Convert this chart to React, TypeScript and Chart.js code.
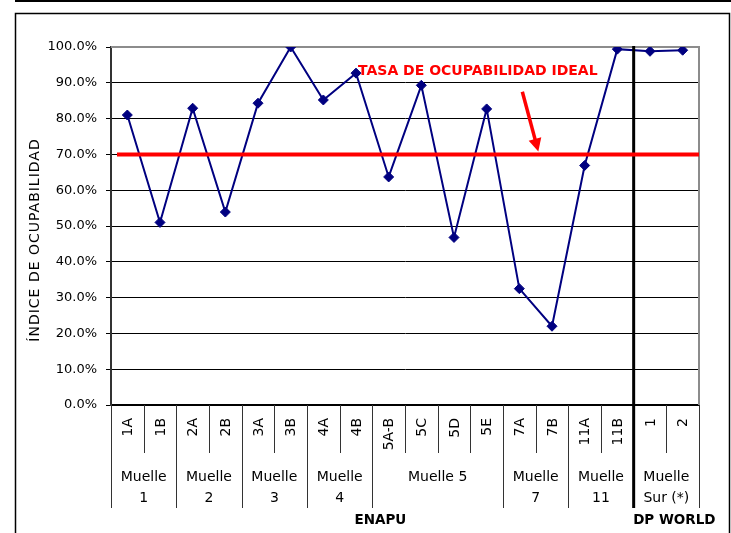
import React, { useEffect, useRef } from 'react';
import { Chart, registerables } from 'chart.js';

Chart.register(...registerables);

// ---- data ----
const categories = ['1A', '1B', '2A', '2B', '3A', '3B', '4A', '4B', '5A-B', '5C', '5D', '5E', '7A', '7B', '11A', '11B', '1', '2'];
const occupancy = [81.0, 51.0, 82.9, 53.9, 84.3, 100.0, 85.2, 92.7, 63.7, 89.3, 46.8, 82.7, 32.5, 22.0, 66.9, 99.4, 98.8, 99.1];
const groupLabels = [['Muelle', '1'], ['Muelle', '2'], ['Muelle', '3'], ['Muelle', '4'], ['Muelle 5'], ['Muelle', '7'], ['Muelle', '11'], ['Muelle', 'Sur (*)']];
const groupSizes = [2, 2, 2, 2, 4, 2, 2, 2];
const operators = ['ENAPU', 'DP WORLD'];
const operatorSizes = [16, 2];
const idealRate = 70;
const idealLabel = 'TASA DE OCUPABILIDAD IDEAL';
const yTitle = 'ÍNDICE DE OCUPABILIDAD';
const yMin = 0;
const yMax = 100;
const yStep = 10;

const FONT = '"DejaVu Sans", sans-serif';

const overlay = {
  id: 'overlay',
  beforeDatasetsDraw(chart: any) {
    const { ctx, chartArea: ca } = chart;
    ctx.save();
    ctx.strokeStyle = '#8c8c8c';
    ctx.lineWidth = 2;
    ctx.beginPath();
    ctx.moveTo(ca.left, ca.top);
    ctx.lineTo(ca.right, ca.top);
    ctx.lineTo(ca.right, ca.bottom);
    ctx.stroke();
    ctx.restore();
  },
  afterDatasetsDraw(chart: any) {
    const { ctx, chartArea: ca, scales } = chart;
    const x = scales.x;
    const y = scales.y;
    const step = x.getPixelForValue(1) - x.getPixelForValue(0);
    const edge = (i: number) => x.getPixelForValue(0) - step / 2 + i * step;
    ctx.save();

    // operator divider (thick black)
    const opBoundary = edge(operatorSizes[0]);
    ctx.strokeStyle = '#000';
    ctx.lineWidth = 3;
    ctx.beginPath();
    ctx.moveTo(opBoundary, ca.top - 1);
    ctx.lineTo(opBoundary, ca.bottom + 103);
    ctx.stroke();

    // ideal line
    const yi = y.getPixelForValue(idealRate);
    ctx.strokeStyle = '#ff0000';
    ctx.lineWidth = 4;
    ctx.beginPath();
    ctx.moveTo(ca.left + 6, yi);
    ctx.lineTo(ca.right, yi);
    ctx.stroke();

    // annotation text
    ctx.fillStyle = '#ff0000';
    ctx.font = `bold 14px ${FONT}`;
    ctx.textAlign = 'left';
    ctx.textBaseline = 'middle';
    ctx.fillText(idealLabel, x.getPixelForValue(7) + 2, y.getPixelForValue(93.1));

    // arrow
    const x0 = x.getPixelForValue(12) + 3;
    const y0 = y.getPixelForValue(87.5);
    const x1 = x.getPixelForValue(12) + 19;
    const y1 = y.getPixelForValue(70.8);
    const ang = Math.atan2(y1 - y0, x1 - x0);
    const hl = 13;
    const hw = 6.5;
    const bx = x1 - hl * Math.cos(ang);
    const by = y1 - hl * Math.sin(ang);
    ctx.strokeStyle = '#ff0000';
    ctx.lineWidth = 3.5;
    ctx.beginPath();
    ctx.moveTo(x0, y0);
    ctx.lineTo(bx + 2 * Math.cos(ang), by + 2 * Math.sin(ang));
    ctx.stroke();
    ctx.beginPath();
    ctx.moveTo(x1, y1);
    ctx.lineTo(bx + hw * Math.sin(ang), by - hw * Math.cos(ang));
    ctx.lineTo(bx - hw * Math.sin(ang), by + hw * Math.cos(ang));
    ctx.closePath();
    ctx.fill();
    ctx.restore();
  },
  afterDraw(chart: any) {
    const { ctx, chartArea: ca, scales, width } = chart;
    const x = scales.x;
    const step = x.getPixelForValue(1) - x.getPixelForValue(0);
    const edge = (i: number) => x.getPixelForValue(0) - step / 2 + i * step;
    ctx.save();

    // category separators
    const groupBounds = new Set<number>();
    let acc = 0;
    groupBounds.add(0);
    groupSizes.forEach((s) => { acc += s; groupBounds.add(acc); });
    ctx.strokeStyle = '#333';
    ctx.lineWidth = 1;
    for (let b = 0; b <= categories.length; b++) {
      if (b === operatorSizes[0]) continue;
      const xb = Math.round(edge(b)) + 0.5;
      ctx.beginPath();
      ctx.moveTo(xb, ca.bottom);
      ctx.lineTo(xb, ca.bottom + (groupBounds.has(b) ? 103 : 48));
      ctx.stroke();
    }

    // category labels (rotated)
    ctx.fillStyle = '#000';
    ctx.font = `14px ${FONT}`;
    categories.forEach((c, i) => {
      ctx.save();
      ctx.translate(x.getPixelForValue(i) + 1, ca.bottom + 13);
      ctx.rotate(-Math.PI / 2);
      ctx.textAlign = 'right';
      ctx.textBaseline = 'middle';
      ctx.fillText(c, 0, 0);
      ctx.restore();
    });

    // group labels
    ctx.textAlign = 'center';
    ctx.textBaseline = 'middle';
    let start = 0;
    groupLabels.forEach((lines, gi) => {
      const end = start + groupSizes[gi];
      const cx = (edge(start) + edge(end)) / 2;
      lines.forEach((ln, li) => ctx.fillText(ln, cx, ca.bottom + 72 + li * 21));
      start = end;
    });

    // operator labels
    ctx.font = `bold 13.5px ${FONT}`;
    start = 0;
    operators.forEach((op, oi) => {
      const end = start + operatorSizes[oi];
      const cx = (edge(start) + edge(end)) / 2 + 8;
      ctx.fillText(op, cx, ca.bottom + 115);
      start = end;
    });

    // y axis title
    ctx.save();
    ctx.font = `14px ${FONT}`;
    (ctx as any).letterSpacing = '1px';
    ctx.translate(35, (ca.top + ca.bottom) / 2 + 14);
    ctx.rotate(-Math.PI / 2);
    ctx.textAlign = 'center';
    ctx.textBaseline = 'middle';
    ctx.fillText(yTitle, 0, 0);
    ctx.restore();

    // outer frame
    ctx.strokeStyle = '#000';
    ctx.lineWidth = 2;
    ctx.beginPath();
    ctx.moveTo(15, 1);
    ctx.lineTo(width, 1);
    ctx.stroke();
    ctx.lineWidth = 1.5;
    ctx.beginPath();
    ctx.moveTo(15.5, chart.height);
    ctx.lineTo(15.5, 13.5);
    ctx.lineTo(729.5, 13.5);
    ctx.lineTo(729.5, chart.height);
    ctx.stroke();
    ctx.restore();
  },
};

export default function App() {
  const ref = useRef<HTMLCanvasElement>(null);
  useEffect(() => {
    if (!ref.current) return;
    const chart = new Chart(ref.current, {
      type: 'line',
      data: {
        labels: categories,
        datasets: [
          {
            data: occupancy,
            borderColor: '#000080',
            backgroundColor: '#000080',
            borderWidth: 2,
            pointStyle: 'rectRot',
            pointRadius: 5,
            pointBorderWidth: 1,
            tension: 0,
          },
        ],
      },
      options: {
        responsive: false,
        animation: false,
        devicePixelRatio: 1,
        layout: { padding: { top: 47, right: 32, left: 0, bottom: 0 } },
        plugins: { legend: { display: false }, tooltip: { enabled: false } },
        scales: {
          x: {
            type: 'category',
            offset: true,
            grid: { display: false },
            ticks: { display: false },
            border: { display: true, color: '#000', width: 1.5 },
            afterFit: (s: any) => { s.height = 128; },
          },
          y: {
            min: yMin,
            max: yMax,
            ticks: {
              stepSize: yStep,
              padding: 9,
              color: '#000',
              font: { family: FONT, size: 13 },
              callback: (v: any) => Number(v).toFixed(1) + '%',
            },
            grid: {
              color: (c: any) => (c.tick && c.tick.value === yMax ? 'rgba(0,0,0,0)' : '#000'),
              tickColor: '#000',
              tickLength: 5,
              lineWidth: 1,
            },
            border: { color: '#333', width: 2 },
            afterFit: (s: any) => { s.width = 111; },
          },
        },
      },
      plugins: [overlay],
    });
    return () => chart.destroy();
  }, []);
  return (
    <div style={{ position: 'absolute', left: 0, top: 0, width: 731, height: 533 }}>
      <canvas ref={ref} width={731} height={533} style={{ display: 'block' }} />
    </div>
  );
}
